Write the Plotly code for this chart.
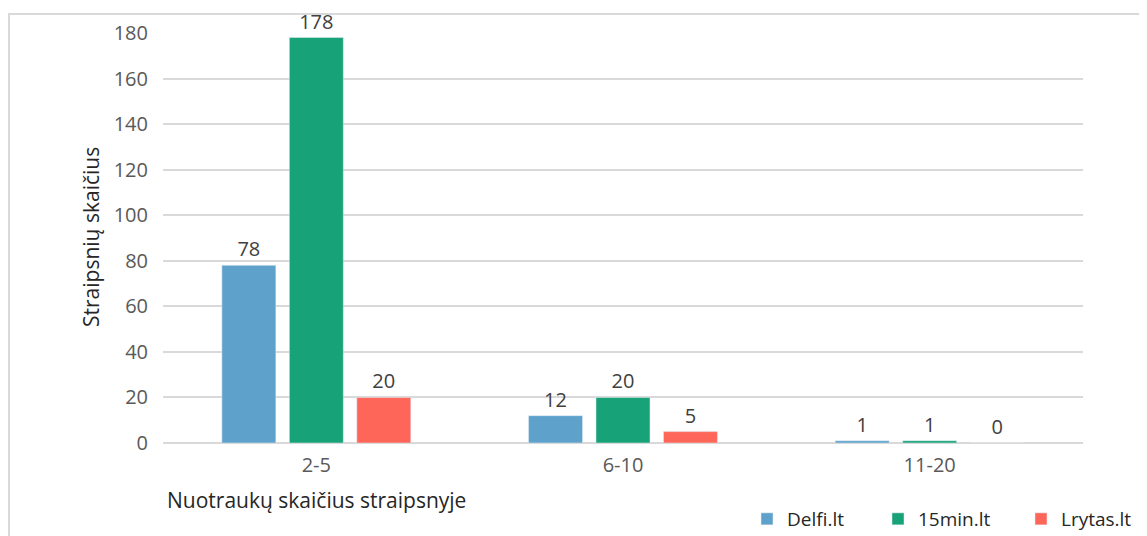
import plotly.graph_objects as go

categories = ["2-5", "6-10", "11-20"]
delfi = [78, 12, 1]
min15 = [178, 20, 1]
lrytas = [20, 5, 0]
series_names = ["Delfi.lt", "15min.lt", "Lrytas.lt"]
colors = ["#5EA2CB", "#17A377", "#FF665A"]
y_ticks = [0, 20, 40, 60, 80, 100, 120, 140, 160, 180]

OFF = 8  # page body margin
W, H = 1147 - OFF, 536 - OFF
L, R, T, B = 163 - OFF, 64, 33 - OFF, 93
pw, ph = W - L - R, H - T - B

def px_x(px):
    return (px - OFF - L) / pw

def px_y(py):
    return (H + OFF - B - py) / ph

FONT = "Open Sans"
legend_widths = [86, 98, 100]
fig = go.Figure()
for name, vals, col, lw in zip(series_names, [delfi, min15, lrytas], colors, legend_widths):
    fig.add_trace(go.Bar(
        x=categories, y=vals, name=name, marker_color=col,
        text=[str(v) for v in vals], textposition="outside",
        textfont=dict(family=FONT, size=20, color="#404040"),
        cliponaxis=False, legendwidth=lw,
    ))

fig.update_layout(
    width=W, height=H,
    margin=dict(l=L, r=R, t=T, b=B, autoexpand=False),
    paper_bgcolor="white", plot_bgcolor="white",
    barmode="group", bargap=0.34, bargroupgap=0.2,
    font=dict(family=FONT, size=20, color="#595959"),
    showlegend=True,
    legend=dict(orientation="h", x=px_x(747), xanchor="left", y=px_y(519), yanchor="middle",
                font=dict(family=FONT, size=19, color="#262626"),
                traceorder="normal", itemwidth=30, bgcolor="rgba(0,0,0,0)"),
    xaxis=dict(showgrid=False, showline=False, ticks="", tickfont=dict(size=20, color="#595959"),
               ticklabelstandoff=8),
    yaxis=dict(range=[0, 180], tickvals=y_ticks, showgrid=True, gridcolor="#D9D9D9", gridwidth=2,
               zeroline=True, zerolinecolor="#D9D9D9", zerolinewidth=2, showline=False,
               ticks="", ticklabelstandoff=14, tickfont=dict(size=20, color="#595959")),
)

fig.add_annotation(text="Straipsnių skaičius", xref="paper", yref="paper",
                   x=px_x(91), y=px_y(237), textangle=-90, showarrow=False,
                   xanchor="center", yanchor="middle",
                   font=dict(family=FONT, size=21, color="#262626"))
fig.add_annotation(text="Nuotraukų skaičius straipsnyje", xref="paper", yref="paper",
                   x=px_x(165), y=px_y(500), showarrow=False,
                   xanchor="left", yanchor="middle",
                   font=dict(family=FONT, size=21, color="#262626"))

fig.add_shape(type="rect", xref="paper", yref="paper",
              x0=px_x(9), x1=px_x(1160), y0=px_y(560), y1=px_y(14),
              line=dict(color="#D9D9D9", width=2), fillcolor="rgba(0,0,0,0)", layer="below")

fig.write_html("out.html")
